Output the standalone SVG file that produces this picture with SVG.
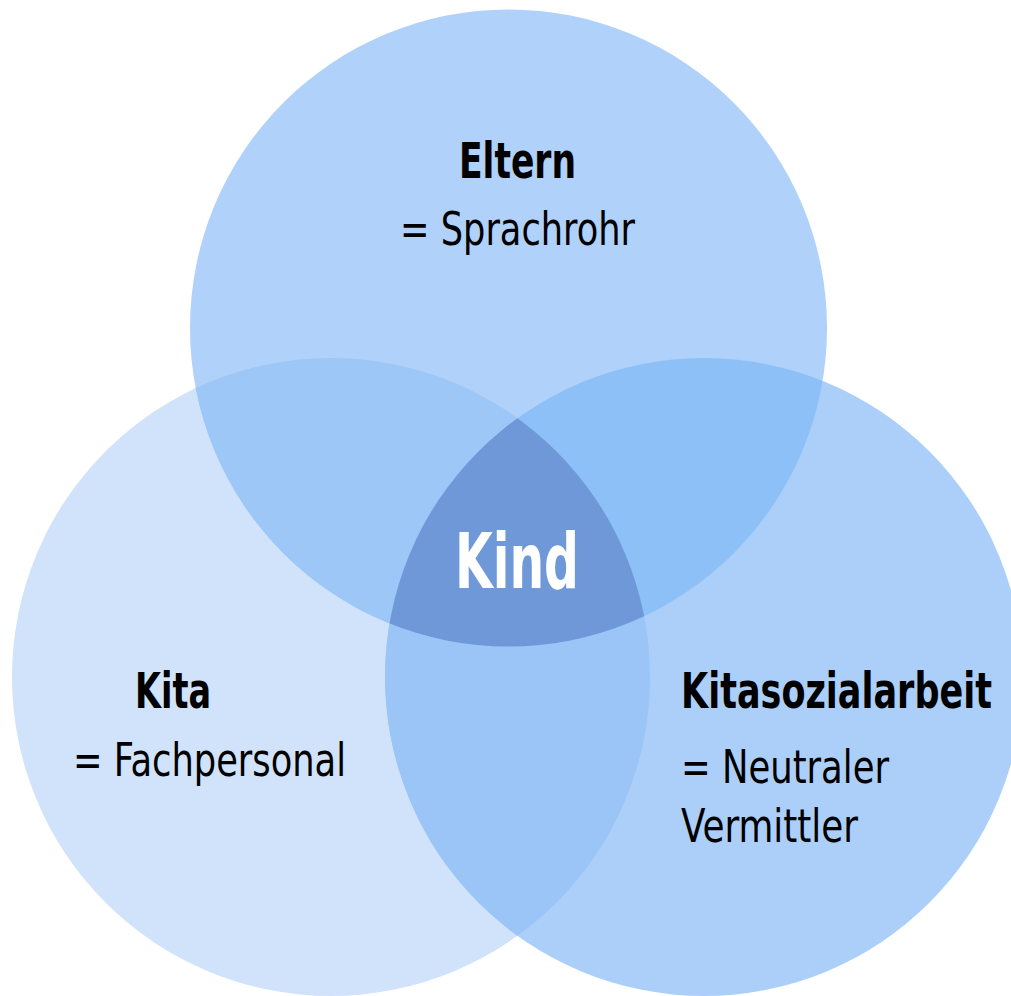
<svg xmlns="http://www.w3.org/2000/svg" width="1011" height="996" viewBox="0 0 1011 996">
<style>
.lbl{font-family:"Liberation Sans Narrow","DejaVu Sans Condensed","Liberation Sans",sans-serif;fill:#000}
.b{font-weight:bold}
</style>
<defs>
<clipPath id="cT"><circle cx="508.5" cy="328" r="318.5"/></clipPath>
<clipPath id="cL"><circle cx="331" cy="677" r="319"/></clipPath>
<clipPath id="cR"><circle cx="704" cy="677" r="319"/></clipPath>
</defs>
<rect width="1011" height="996" fill="#fff"/>
<g id="venn">
<circle id="left" cx="331" cy="677" r="319" fill="#d0e3fa"/>
<circle id="right" cx="704" cy="677" r="319" fill="#abcff9"/>
<circle id="top" cx="508.5" cy="328" r="318.5" fill="#b0d1f9"/>
<g clip-path="url(#cT)"><circle cx="331" cy="677" r="319" fill="#9dc7f7"/></g>
<g clip-path="url(#cT)"><circle cx="704" cy="677" r="319" fill="#8dc0f6"/></g>
<g clip-path="url(#cL)"><circle cx="704" cy="677" r="319" fill="#9ac5f6"/></g>
<g clip-path="url(#cT)"><g clip-path="url(#cL)"><circle cx="704" cy="677" r="319" fill="#6f98d9"/></g></g>
</g>
<g id="eltern">
<text class="lbl b" x="459" y="178" font-size="50" textLength="117" lengthAdjust="spacingAndGlyphs">Eltern</text>
<text class="lbl" x="400" y="245" font-size="47" textLength="235" lengthAdjust="spacingAndGlyphs">= Sprachrohr</text>
</g>
<g id="kind">
<text class="lbl b" x="455" y="588" font-size="76" fill="#fff" style="fill:#fff" textLength="124" lengthAdjust="spacingAndGlyphs">Kind</text>
</g>
<g id="kita">
<text class="lbl b" x="135" y="708" font-size="50" textLength="76" lengthAdjust="spacingAndGlyphs">Kita</text>
<text class="lbl" x="73" y="776" font-size="47" textLength="273" lengthAdjust="spacingAndGlyphs">= Fachpersonal</text>
</g>
<g id="kitasozialarbeit">
<text class="lbl b" x="681" y="708" font-size="50" textLength="311" lengthAdjust="spacingAndGlyphs">Kitasozialarbeit</text>
<text class="lbl" x="681" y="783" font-size="47" textLength="208" lengthAdjust="spacingAndGlyphs">= Neutraler</text>
<text class="lbl" x="681" y="842" font-size="47" textLength="177" lengthAdjust="spacingAndGlyphs">Vermittler</text>
</g>
</svg>
